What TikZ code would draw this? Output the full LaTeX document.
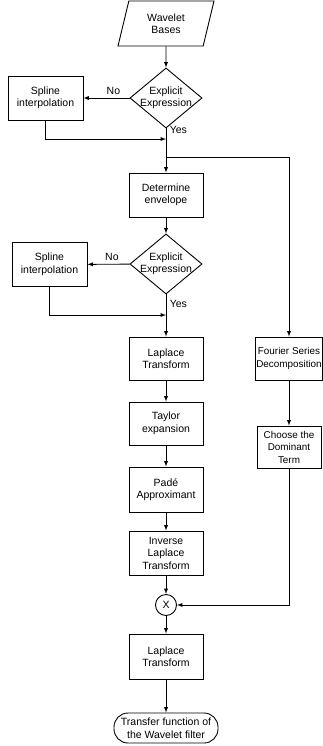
\documentclass[tikz,border=0pt]{standalone}
\usepackage{fontspec}
\setmainfont{Liberation Sans}
\usetikzlibrary{positioning, shapes.geometric, arrows.meta}

\begin{document}
\begin{tikzpicture}[x=1pt, y=-1pt, line width=0.9pt, >=latex,
        font=\fontsize{10.5}{12.5}\selectfont,
        box/.style={draw, rectangle, minimum width=74pt, minimum height=44pt, align=center, inner sep=1pt},
        sidebox/.style={box, minimum width=64pt, font=\fontsize{9.9}{12.5}\selectfont},
        decision/.style={draw, diamond, aspect=1.2, inner sep=-1.5pt, align=center}]
        \useasboundingbox (0,0) rectangle (323,746);

        \node[draw, trapezium, trapezium left angle=64, trapezium right angle=116, trapezium stretches body,
              minimum width=96pt, minimum height=45pt, inner sep=1pt, align=center] (bases) at (166,23.5) {Wavelet\\Bases};
        \node[decision] (expl1) at (166,98) {Explicit\\Expression};
        \node[box, minimum width=75pt] (spline1) at (45.5,98) {Spline\\interpolation};
        \node[box] (envelope) at (166,195) {Determine\\envelope};
        \node[decision] (expl2) at (166,264) {Explicit\\Expression};
        \node[box, minimum width=75pt] (spline2) at (49.5,264.5) {Spline\\interpolation};
        \node[box, minimum height=43pt] (laplace1) at (166,358.5) {Laplace\\Transform};
        \node[box, minimum height=43pt] (taylor) at (166,423.5) {Taylor\\expansion};
        \node[box, minimum height=45pt] (pade) at (166,489.5) {Padé\\Approximant};
        \node[box] (invlaplace) at (166,553) {Inverse\\Laplace\\Transform};
        \node[draw, circle, minimum size=21pt, inner sep=0pt] (mult) at (166,605) {X};
        \node[box, minimum height=45pt] (laplace2) at (166,656.5) {Laplace\\Transform};
        \node[draw, rectangle, rounded corners=14pt, minimum width=104pt, minimum height=30pt,
              inner sep=1pt, align=center] (transfer) at (166,728) {Transfer function of\\the Wavelet filter};
        \node[sidebox, minimum height=43pt] (fourier) at (289,358.5) {Fourier Series\\Decomposition};
        \node[sidebox, minimum height=42pt] (dominant) at (289,447) {Choose the\\Dominant\\Term};

        \coordinate (join1) at (166,139);
        \coordinate (split) at (166,157);
        \coordinate (join2) at (166,315);

        \draw[->] (bases) -- (expl1);
        \draw[->] (expl1) -- node[pos=0.35, above] {No} (spline1);
        \draw[->] (expl1) -- node[pos=0.0, right, yshift=-1pt] {Yes} (envelope);
        \draw[->] (spline1) |- (join1);
        \draw[->] (split) -| (fourier);
        \draw[->] (envelope) -- (expl2);
        \draw[->] (expl2) -- node[pos=0.42, above] {No} (spline2);
        \draw[->] (expl2) -- node[pos=0.22, right] {Yes} (laplace1);
        \draw[->] (spline2) |- (join2);
        \draw[->] (laplace1) -- (taylor);
        \draw[->] (taylor) -- (pade);
        \draw[->] (pade) -- (invlaplace);
        \draw[->] (invlaplace) -- (mult);
        \draw[->] (mult) -- (laplace2);
        \draw[->] (laplace2) -- (transfer);
        \draw[->] (fourier) -- (dominant);
        \draw[->] (dominant) |- (mult);
    \end{tikzpicture}
\end{document}
